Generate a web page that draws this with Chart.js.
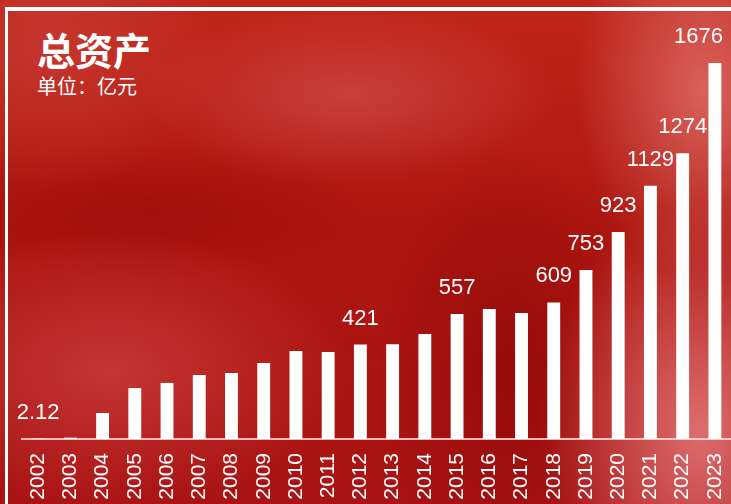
<!DOCTYPE html>
<html>
<head>
<meta charset="utf-8">
<script src="https://cdn.jsdelivr.net/npm/chart.js@4"></script>
<style>
    body { margin: 0; }
    #wrap {
        position: relative;
        width: 731px;
        height: 504px;
        overflow: hidden;
        background:
            radial-gradient(ellipse 130px 190px at 705px 90px, rgba(225, 115, 110, 0.8), rgba(225, 115, 110, 0)),
            radial-gradient(ellipse 160px 230px at 700px 430px, rgba(230, 125, 125, 0.85), rgba(230, 125, 125, 0)),
            radial-gradient(ellipse 210px 90px at 350px 95px, rgba(212, 85, 85, 0.6), rgba(212, 85, 85, 0)),
            radial-gradient(ellipse 240px 140px at 110px 370px, rgba(212, 75, 75, 0.6), rgba(212, 75, 75, 0)),
            radial-gradient(ellipse 170px 140px at 50px 50px, rgba(205, 70, 65, 0.55), rgba(205, 70, 65, 0)),
            radial-gradient(ellipse 130px 220px at 510px 370px, rgba(135, 5, 5, 0.6), rgba(135, 5, 5, 0)),
            radial-gradient(ellipse 220px 70px at 150px 210px, rgba(150, 8, 5, 0.5), rgba(150, 8, 5, 0)),
            linear-gradient(180deg, #c0261a 0%, #ad1610 45%, #a91313 100%);
    }
    #frame {
        position: absolute;
        left: 5px;
        top: 7px;
        width: 800px;
        height: 600px;
        border-top: 4px solid #fff;
        border-left: 3px solid #fff;
    }
    .title {
        position: absolute;
        left: 37px;
        top: 30px;
        color: #fff;
        font: bold 38px "Noto Sans CJK SC", sans-serif;
        line-height: 38px;
    }
    .unit {
        position: absolute;
        left: 37px;
        top: 76px;
        color: #fff;
        font: 20px "Noto Sans CJK SC", sans-serif;
        line-height: 20px;
    }
    canvas { position: absolute; left: 0; top: 0; }
</style>
</head>
<body>
<div id="wrap">
    <div id="frame"></div>
    <div class="title">总资产</div>
    <div class="unit">单位：亿元</div>
    <canvas id="myChart" width="731" height="504"></canvas>
</div>
<script>
// 总资产（亿元）
const years = ['2002', '2003', '2004', '2005', '2006', '2007', '2008', '2009', '2010', '2011', '2012',
    '2013', '2014', '2015', '2016', '2017', '2018', '2019', '2020', '2021', '2022', '2023'];
const assets = [2.12, 6, 116, 227, 250, 285, 294, 339, 392, 388, 421,
    422, 468, 557, 580, 562, 609, 753, 923, 1129, 1274, 1676];
// years that get a value label above the bar
const labelYears = ['2002', '2012', '2015', '2018', '2019', '2020', '2021', '2022', '2023'];
const labelText = ['2.12', '421', '557', '609', '753', '923', '1129', '1274', '1676'];

const valueLabels = {
    id: 'valueLabels',
    afterDatasetsDraw(chart) {
        const ctx = chart.ctx;
        const bars = chart.getDatasetMeta(0).data;
        ctx.save();
        ctx.fillStyle = '#fff';
        ctx.font = '22px "Liberation Sans", Arial, sans-serif';
        ctx.textAlign = 'center';
        ctx.textBaseline = 'alphabetic';
        labelYears.forEach((y, k) => {
            const i = years.indexOf(y);
            const bar = bars[i];
            const w = ctx.measureText(labelText[k]).width;
            const x = Math.min(bar.x, chart.width - 8 - w / 2);
            ctx.fillText(labelText[k], x, bar.y - 20);
        });
        ctx.restore();
    }
};

new Chart(document.getElementById('myChart'), {
    type: 'bar',
    data: {
        labels: years,
        datasets: [{
            data: assets,
            backgroundColor: '#ffffff',
            barPercentage: 0.4,
            categoryPercentage: 1
        }]
    },
    options: {
        responsive: false,
        animation: false,
        layout: { padding: { left: 22, right: 0, top: 0, bottom: 4 } },
        plugins: {
            legend: { display: false },
            tooltip: { enabled: false }
        },
        scales: {
            x: {
                grid: { display: false, drawTicks: false },
                border: { color: 'rgba(255, 225, 225, 0.8)', width: 2 },
                ticks: {
                    color: '#fff',
                    font: { size: 21, family: '"Liberation Sans", Arial, sans-serif' },
                    minRotation: 90,
                    maxRotation: 90,
                    padding: 14,
                    autoSkip: false
                },
                afterFit(scale) {
                    // keep the bars running right to the edge, labels close to the bottom
                    scale.paddingLeft = 0;
                    scale.paddingRight = 0;
                    scale.height = 61;
                }
            },
            y: {
                display: false,
                min: 0,
                max: 1957
            }
        }
    },
    plugins: [valueLabels]
});
</script>
</body>
</html>
